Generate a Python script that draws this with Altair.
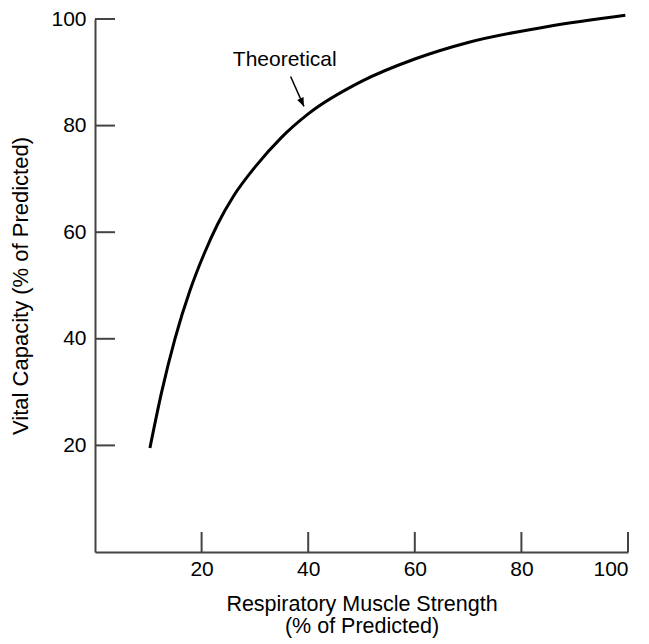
import altair as alt
import pandas as pd

# Curve
x_vals = [10.3, 12.5, 15.0, 17.8, 20.5, 23.0, 26.0, 30.0, 35.0, 40.0, 50.0, 60.0, 70.0, 85.0, 99.5]
y_vals = [19.5, 30.0, 40.0, 49.0, 56.0, 61.5, 66.8, 72.2, 77.8, 82.2, 88.3, 92.5, 95.6, 98.6, 100.7]
tick_values = [20, 40, 60, 80, 100]
label_text = ["Theoretical"]
label_x = [35.6]
label_y = [92.3]
arrow_x = [36.7, 39.2]
arrow_y = [89.2, 83.6]

FONT = "Liberation Sans"
AX = "#444444"

curve = pd.DataFrame({"x": x_vals, "y": y_vals})
ticks = pd.DataFrame({"x": tick_values, "y": tick_values})
lab = pd.DataFrame({"x": label_x, "y": label_y, "t": label_text})
arr = pd.DataFrame({"x": arrow_x, "y": arrow_y, "o": [0, 1]})
head = arr.iloc[[1]]

xs = alt.Scale(domain=[0, 100], nice=False, zero=False)
ys = alt.Scale(domain=[0, 100], nice=False, zero=False)

xa = alt.Axis(
    values=tick_values, ticks=False, grid=False, domainColor=AX, domainWidth=2,
    labelFont=FONT, labelFontSize=21, labelColor="black", labelPadding=6,
    title=["Respiratory Muscle Strength", "(% of Predicted)"],
    titleFont=FONT, titleFontSize=21.5, titleFontWeight="normal", titleColor="black",
    titlePadding=14, titleLineHeight=22)
ya = alt.Axis(
    values=tick_values, ticks=False, grid=False, domainColor=AX, domainWidth=2,
    labelFont=FONT, labelFontSize=21, labelColor="black", labelPadding=9,
    title="Vital Capacity (% of Predicted)",
    titleFont=FONT, titleFontSize=22, titleFontWeight="normal", titleColor="black",
    titlePadding=18)

line = alt.Chart(curve).mark_line(color="black", strokeWidth=3, interpolate="monotone").encode(
    x=alt.X("x:Q", scale=xs, axis=xa),
    y=alt.Y("y:Q", scale=ys, axis=ya),
)

xticks = alt.Chart(ticks).mark_rule(color=AX, strokeWidth=2).encode(
    x=alt.X("x:Q", scale=xs, axis=xa),
    y=alt.datum(0, scale=ys, axis=ya),
    y2=alt.datum(3.75),
)
yticks = alt.Chart(ticks).mark_rule(color=AX, strokeWidth=2).encode(
    y=alt.Y("y:Q", scale=ys, axis=ya),
    x=alt.datum(0, scale=xs, axis=xa),
    x2=alt.datum(3.75),
)

text = alt.Chart(lab).mark_text(font=FONT, fontSize=21, color="black", align="center", baseline="middle").encode(
    x=alt.X("x:Q", scale=xs, axis=xa),
    y=alt.Y("y:Q", scale=ys, axis=ya),
    text="t:N",
)

arrow_line = alt.Chart(arr).mark_line(color="black", strokeWidth=1.5).encode(
    x=alt.X("x:Q", scale=xs, axis=xa),
    y=alt.Y("y:Q", scale=ys, axis=ya),
    order="o:Q",
)
arrow_head = alt.Chart(head).mark_point(
    shape="M0,0 L-0.4,-1 L0.4,-1 Z", filled=True, color="black", opacity=1, size=300, angle=335.6
).encode(
    x=alt.X("x:Q", scale=xs, axis=xa),
    y=alt.Y("y:Q", scale=ys, axis=ya),
)

chart = alt.layer(xticks, yticks, line, text, arrow_line, arrow_head).properties(
    width=533, height=533,
    background="white",
    autosize=alt.AutoSizeParams(type="none"),
    padding={"left": 87, "top": 11, "right": 12, "bottom": 92},
).configure_view(stroke=None)

chart.save("out.html", embed_options={"renderer": "svg", "actions": False})
